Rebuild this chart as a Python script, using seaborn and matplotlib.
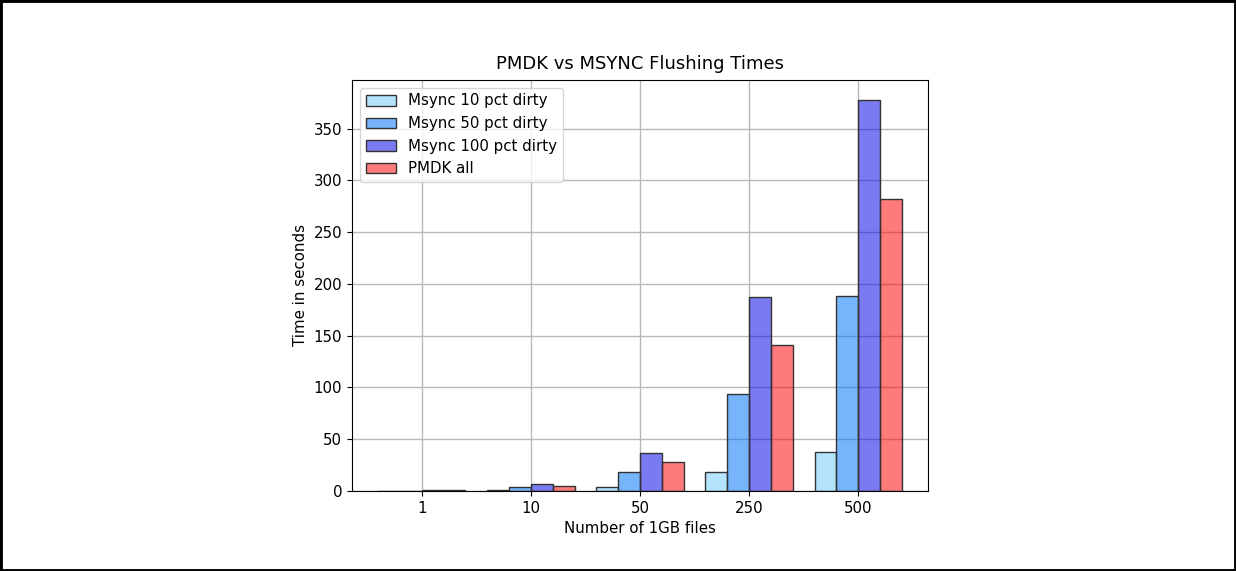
import numpy as np
import pandas as pd
import seaborn as sns
import matplotlib.pyplot as plt
from matplotlib.colors import to_rgba
from matplotlib.patches import Rectangle

# data
files = ["1", "10", "50", "250", "500"]
msync_10 = [0.07, 0.7, 3.9, 18, 37.7]
msync_50 = [0.37, 3.6, 18.4, 93.5, 188.3]
msync_100 = [0.75, 7.1, 37, 187.3, 377.8]
pmdk_all = [0.6, 4.8, 27.7, 141, 281.8]
series = ["Msync 10 pct dirty", "Msync 50 pct dirty", "Msync 100 pct dirty", "PMDK all"]
colors = ["#77ccfa", "#0677fb", "#0d0de7", "#ff0d0d"]

df = pd.DataFrame({
    "files": files * 4,
    "time": msync_10 + msync_50 + msync_100 + pmdk_all,
    "series": np.repeat(series, len(files)),
})

fig = plt.figure(figsize=(12.36, 5.71), dpi=100)
ax = fig.add_axes([352 / 1236, 1 - 491 / 571, 576 / 1236, 411 / 571])

sns.barplot(data=df, x="files", y="time", hue="series", order=files,
            hue_order=series, palette=colors, ax=ax, legend=False)

# translucent bars with dark edges
for cont, col in zip(ax.containers, colors):
    for p in cont:
        p.set_facecolor(to_rgba(col, 0.55))
        p.set_edgecolor("#333333")
        p.set_linewidth(1)

ax.grid(True, color="#b8b8b8", linewidth=1)
ax.set_axisbelow(True)
ax.set_xlim(-0.64, 4.64)
ax.set_ylim(0, 397)

ax.legend(ax.containers, series, loc="upper left", fontsize=10.8)
ax.set_title("PMDK vs MSYNC Flushing Times", fontsize=13, pad=8)
ax.set_xlabel("Number of 1GB files", fontsize=10.8)
ax.set_ylabel("Time in seconds", fontsize=10.8)
ax.tick_params(labelsize=10.8)

# black frame around the whole picture
fig.patches.append(Rectangle((0, 0), 1, 1, transform=fig.transFigure,
                             fill=False, edgecolor="black", linewidth=3.5))

fig.savefig("out.png", dpi=100)
